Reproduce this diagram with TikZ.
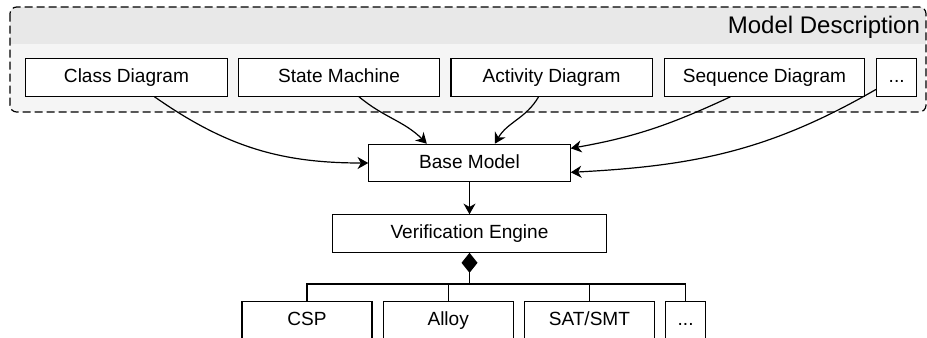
\documentclass[tikz,border=0pt]{standalone}
\usepackage{fontspec}
\setmainfont{Liberation Sans}
\usetikzlibrary{positioning, arrows.meta}

\begin{document}
\begin{tikzpicture}[x=0.75pt, y=-0.75pt, line width=0.9pt,
    box/.style={draw, fill=white, minimum width=151pt, minimum height=28pt, inner sep=0pt, text height=10.5pt, text depth=3pt, font=\fontsize{14.3}{17}\selectfont},
    link/.style={-{Stealth[length=8pt, width=9pt, inset=2.5pt]}}]

    \useasboundingbox (0,0) rectangle (927,337);

    % Container for the model descriptions
    \begin{scope}
        \clip[rounded corners=5pt] (10,7) rectangle (926,112);
        \fill[black!4] (10,7) rectangle (926,112);
        \fill[black!9] (10,7) rectangle (926,44); % header band
    \end{scope}
    \draw[dash pattern=on 6pt off 3pt, rounded corners=5pt] (10,7) rectangle (926,112);
    \node[anchor=east, font=\fontsize{18}{21}\selectfont] (md) at (925,27) {Model Description};

    % Define the description boxes (top row)
    \node[box] (cd) at (126.5,77.5) {Class Diagram};
    \node[box, right=7.5pt of cd] (sm) {State Machine};
    \node[box, right=7.5pt of sm] (ad) {Activity Diagram};
    \node[box, minimum width=150pt, right=8.25pt of ad] (sq) {Sequence Diagram};
    \node[box, minimum width=30pt, right=8.25pt of sq] (dt) {...};

    % Core nodes
    \node[box] (bm) at (469.5,163) {Base Model};
    \node[box, minimum width=205pt, below=24pt of bm] (ve) {Verification Engine};

    % Back ends (bottom row)
    \node[box, minimum width=97.5pt] (csp) at (307,320) {CSP};
    \node[box, minimum width=97.5pt, right=7.5pt of csp] (al) {Alloy};
    \node[box, minimum width=97.5pt, right=7.5pt of al] (ss) {SAT/SMT};
    \node[box, minimum width=30pt, right=7.5pt of ss] (dt2) {...};

    % Transitions into the base model
    \path[link]
    ([xshift=21pt]cd.south) edge [out=-35, in=180] (bm.west) % class diagram
    ([xshift=15pt]sm.south) edge [out=-40, in=135] ([xshift=-32pt]bm.north)
    ([xshift=-9.75pt]ad.south) edge [out=-120, in=60] ([xshift=19pt]bm.north)
    ([xshift=-25.5pt]sq.south) edge [out=-155, in=10] ([yshift=11pt]bm.east)
    (dt.210) edge [out=-150, in=3] ([yshift=-7pt]bm.east); % the rest
    \draw[link] (bm) -- (ve);

    % Composition bus
    \coordinate (bus) at (469.5,284);
    \draw[{Diamond[length=15pt, width=12pt]}-] (ve.south) -- (bus);
    \draw (csp.north) |- (bus) -| (dt2.north);
    \draw (al.north) -- (al.north |- bus);
    \draw (ss.north) -- (ss.north |- bus);
\end{tikzpicture}
\end{document}
